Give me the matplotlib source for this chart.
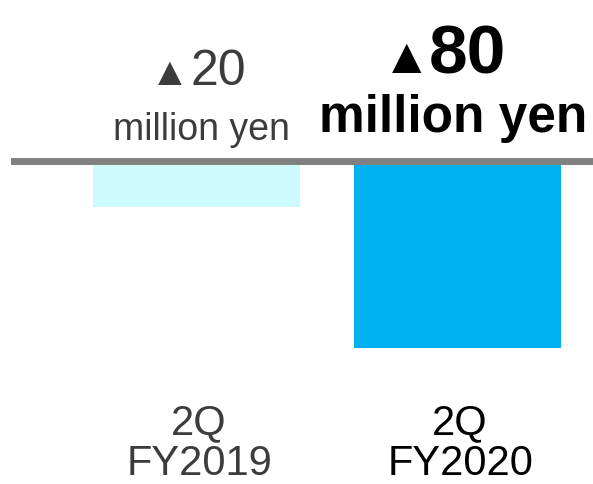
import matplotlib.pyplot as plt
import matplotlib.transforms as mtransforms

# Operating result, 2Q comparison (million yen)
periods = ["2Q\nFY2019", "2Q\nFY2020"]
values = [-20, -80]
bar_colors = ["#ccfafd", "#00b0f0"]
text_colors = ["#3c3c3c", "#000000"]

plt.rcParams["font.family"] = ["Liberation Sans", "DejaVu Sans"]

fig = plt.figure(figsize=(5.93, 4.84), dpi=100)
ax = fig.add_axes([0, 0, 1, 1])
ax.set_xlim(-0.753, 1.519)
ax.set_ylim(-138.0, 68.5)
ax.axis("off")

x = range(len(values))
ax.bar(x, values, width=0.79, color=bar_colors, zorder=1)
ax.axhline(0, xmin=0.024, xmax=1, color="#808080", lw=5, zorder=2)

trans = mtransforms.blended_transform_factory(ax.transData, ax.transAxes)

# small label for the previous year, large bold one for the current year
# offsets are in points from the bar's top centre
styles = [
    dict(weight="normal", tri=29, num=36, unit=27,
         num_dx=-4.7, tri_dx=-5.0, num_dy=54.4, unit_dx=3.2, unit_dy=14.8),
    dict(weight="bold", tri=36, num=50, unit=37,
         num_dx=-20.5, tri_dx=-18.5, num_dy=63.0, unit_dx=-3.0, unit_dy=20.5),
]

for i, (v, s, c) in enumerate(zip(values, styles, text_colors)):
    ax.annotate(f"{abs(v)}", xy=(i, 0), xytext=(s["num_dx"], s["num_dy"]),
                textcoords="offset points", ha="left", va="baseline",
                fontsize=s["num"], fontweight=s["weight"], color=c)
    ax.annotate("\u25b2", xy=(i, 0), xytext=(s["tri_dx"], s["num_dy"]),
                textcoords="offset points", ha="right", va="baseline",
                fontsize=s["tri"], color=c)
    ax.annotate("million yen", xy=(i, 0), xytext=(s["unit_dx"], s["unit_dy"]),
                textcoords="offset points", ha="center", va="baseline",
                fontsize=s["unit"], fontweight=s["weight"], color=c)
    ax.text(i + 0.01, 0.018, periods[i], transform=trans, ha="center",
            va="baseline", fontsize=30, linespacing=1.05, color=c)

fig.savefig("out.png", dpi=100)
